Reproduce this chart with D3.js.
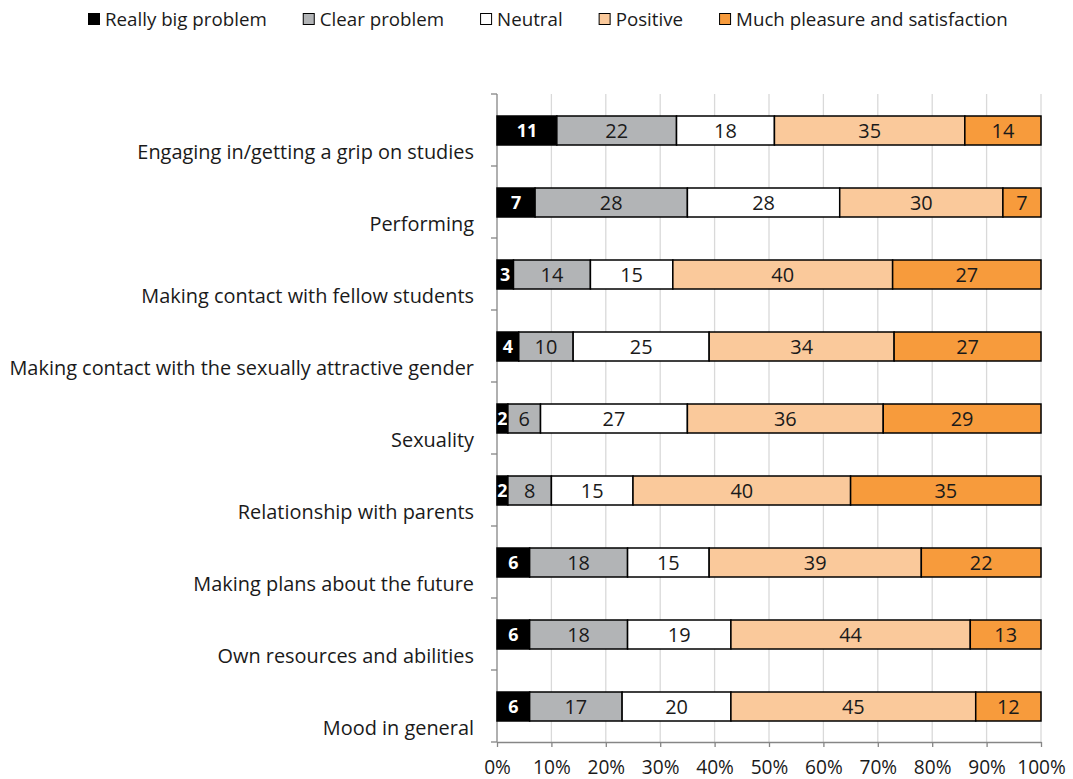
<!DOCTYPE html>
<html><head><meta charset="utf-8">
<script src="https://cdn.jsdelivr.net/npm/d3@7"></script>
<style>body{margin:0;background:#fff}svg{display:block}text{font-family:"Open Sans",Lato,sans-serif}</style>
</head><body>
<svg id="c" width="1073" height="779"></svg>
<script>
const categories = [
  "Engaging in/getting a grip on studies",
  "Performing",
  "Making contact with fellow students",
  "Making contact with the sexually attractive gender",
  "Sexuality",
  "Relationship with parents",
  "Making plans about the future",
  "Own resources and abilities",
  "Mood in general"
];
const seriesNames = ["Really big problem","Clear problem","Neutral","Positive","Much pleasure and satisfaction"];
const reallyBig = [11,7,3,4,2,2,6,6,6];
const clear     = [22,28,14,10,6,8,18,18,17];
const neutral   = [18,28,15,25,27,15,15,19,20];
const positive  = [35,30,40,34,36,40,39,44,45];
const much      = [14,7,27,27,29,35,22,13,12];
const tickLabels = ["0%","10%","20%","30%","40%","50%","60%","70%","80%","90%","100%"];
const colors = ["#000000","#b2b4b6","#ffffff","#fac99b","#f79b3c"];

const series = [reallyBig, clear, neutral, positive, much];
const rows = categories.map((c,i)=>{
  const o = {cat:c};
  const tot = d3.sum(series, s=>s[i]);
  seriesNames.forEach((n,k)=>{ o[n] = series[k][i]/tot; o["raw"+k]=series[k][i]; });
  return o;
});
const stack = d3.stack().keys(seriesNames)(rows);

const svg = d3.select("#c");
const x0 = 497, x1 = 1041, yTop = 94, yBot = 742;
const x = d3.scaleLinear().domain([0,1]).range([x0,x1]);
const y = d3.scaleBand().domain(categories).range([yTop,yBot]).paddingInner(0).paddingOuter(0);
const bw = y.bandwidth();

const probe = svg.append("text").attr("font-size",18).text(categories[3]);
const fs = 18 * 465 / probe.node().getComputedTextLength();
probe.remove();

// gridlines
svg.append("g").selectAll("line").data(d3.range(1,11).map(i=>i/10)).join("line")
  .attr("x1",d=>x(d)).attr("x2",d=>x(d)).attr("y1",yTop).attr("y2",yBot)
  .attr("stroke","#d9d9d9").attr("stroke-width",1.3);

// x axis
const xAxis = d3.axisBottom(x).tickValues(d3.range(0,11).map(i=>i/10))
  .tickFormat((d,i)=>tickLabels[i]).tickSize(5).tickSizeOuter(0);
const gx = svg.append("g").attr("transform",`translate(0,${yBot})`).call(xAxis);
gx.select(".domain").attr("stroke","#868686").attr("stroke-width",1.3);
gx.selectAll(".tick line").attr("stroke","#868686").attr("stroke-width",1.3);
gx.selectAll(".tick text").attr("fill","#1a1a1a").attr("font-size",fs*0.96).attr("dy","0.35em").attr("y",25)
  .attr("font-family","'Open Sans',Lato,sans-serif");

// y axis line & ticks at band boundaries
svg.append("line").attr("x1",x0).attr("x2",x0).attr("y1",yTop).attr("y2",yBot)
  .attr("stroke","#868686").attr("stroke-width",1.3);
svg.append("g").selectAll("line").data(d3.range(0,categories.length+1)).join("line")
  .attr("x1",x0-6).attr("x2",x0).attr("y1",d=>yTop+d*bw).attr("y2",d=>yTop+d*bw)
  .attr("stroke","#868686").attr("stroke-width",1.3);

// category labels
svg.append("g").selectAll("text").data(categories).join("text")
  .attr("x",474).attr("y",d=>y(d)+bw*0.805).attr("dy","0.35em")
  .attr("text-anchor","end").attr("font-size",fs).attr("fill","#1a1a1a").text(d=>d);

// bars
const barOff = 22, barH = 29;
const gs = svg.append("g").selectAll("g").data(stack).join("g");
gs.selectAll("rect").data((s,k)=>s.map(d=>({d,k}))).join("rect")
  .attr("x",o=>x(o.d[0])).attr("width",o=>x(o.d[1])-x(o.d[0]))
  .attr("y",o=>y(o.d.data.cat)+barOff).attr("height",barH)
  .attr("fill",o=>colors[o.k]).attr("stroke","#000").attr("stroke-width",1.5);
gs.selectAll("text").data((s,k)=>s.map(d=>({d,k}))).join("text")
  .attr("x",o=>(x(o.d[0])+x(o.d[1]))/2).attr("y",o=>y(o.d.data.cat)+barOff+barH/2).attr("dy","0.36em")
  .attr("text-anchor","middle")
  .attr("font-size",o=>o.k===0?fs*0.9:fs)
  .attr("font-weight",o=>o.k===0?"bold":"normal")
  .attr("fill",o=>o.k===0?"#fff":"#1a1a1a")
  .text(o=>o.d.data["raw"+o.k]);

// legend
const lg = svg.append("g");
let lx = 88;
seriesNames.forEach((n,k)=>{
  lg.append("rect").attr("x",lx+0.5).attr("y",13.5).attr("width",11).attr("height",11)
    .attr("fill",colors[k]).attr("stroke","#000").attr("stroke-width",1);
  const t = lg.append("text").attr("x",lx+17).attr("y",19).attr("dy","0.35em")
    .attr("font-size",fs*0.94).attr("fill","#1a1a1a").text(n);
  lx += 17 + t.node().getComputedTextLength() + 36;
});
</script>
</body></html>
